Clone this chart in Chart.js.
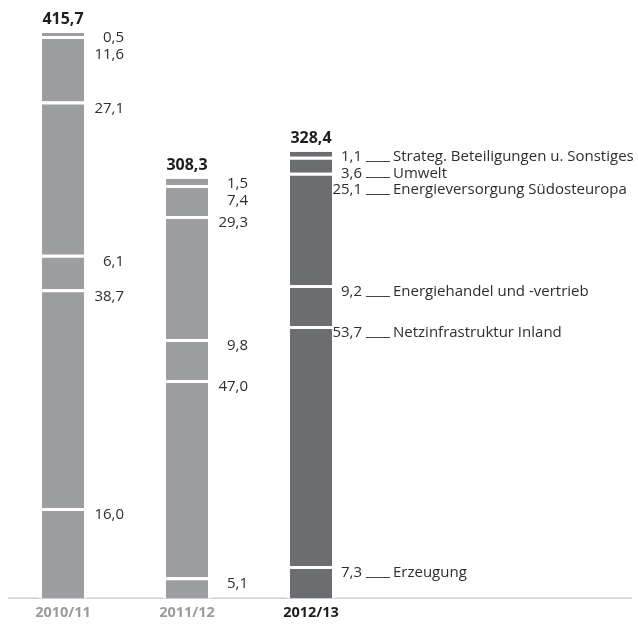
<!DOCTYPE html>
<html>
<head>
<meta charset="utf-8">
<script src="https://cdn.jsdelivr.net/npm/chart.js@4.4.1/dist/chart.umd.min.js"></script>
<style>
  body { margin: 0; background: #fff; }
  canvas { display: block; }
</style>
</head>
<body>
<canvas id="chart" width="638" height="628"></canvas>
<script>
// Fiscal years and total values (bar heights)
const years = ['2010/11', '2011/12', '2012/13'];
const totals = [415.7, 308.3, 328.4];

// Segment names, bottom to top
const segmentNames = [
    'Erzeugung',
    'Netzinfrastruktur Inland',
    'Energiehandel und -vertrieb',
    'Energieversorgung Südosteuropa',
    'Umwelt',
    'Strateg. Beteiligungen u. Sonstiges'
];

// Shares in percent per year
const erzeugung = [16.0, 5.1, 7.3];
const netzinfrastruktur = [38.7, 47.0, 53.7];
const energiehandel = [6.1, 9.8, 9.2];
const suedosteuropa = [27.1, 29.3, 25.1];
const umwelt = [11.6, 7.4, 3.6];
const sonstiges = [0.5, 1.5, 1.1];

const shares = [erzeugung, netzinfrastruktur, energiehandel, suedosteuropa, umwelt, sonstiges];

const barColors = ['#9d9ea1', '#9d9ea1', '#6c6d70'];
const tickColors = ['#9b9b9b', '#9b9b9b', '#1e1e1e'];
const fontFamily = '"Open Sans", "DejaVu Sans", sans-serif';

function formatDe(v) {
    return v.toFixed(1).replace('.', ',');
}

// each segment drawn as its share of the year's total
const datasets = shares.map((share, d) => ({
    label: segmentNames[d],
    data: share.map((p, i) => p * totals[i] / 100),
    backgroundColor: barColors,
    borderColor: '#ffffff',
    borderWidth: { top: d === shares.length - 1 ? 0 : 3, left: 3, right: 3, bottom: 0 },
    borderSkipped: false,
    barThickness: 48,
    inflateAmount: 0
}));

// baseline under the bars, spanning the full width
const baselinePlugin = {
    id: 'baseline',
    beforeDatasetsDraw(chart) {
        const ctx = chart.ctx;
        const y = chart.chartArea.bottom - 0.5;
        ctx.save();
        ctx.strokeStyle = '#b8b8b8';
        ctx.lineWidth = 1;
        ctx.beginPath();
        ctx.moveTo(8, y);
        ctx.lineTo(632, y);
        ctx.stroke();
        ctx.restore();
    }
};

// value labels, totals and legend text for the last bar
const labelPlugin = {
    id: 'segmentLabels',
    afterDatasetsDraw(chart) {
        const ctx = chart.ctx;
        ctx.save();
        const last = years.length - 1;
        for (let i = 0; i < years.length; i++) {
            const topEl = chart.getDatasetMeta(shares.length - 1).data[i];
            const cx = topEl.x;

            // total above the bar
            ctx.font = 'bold 16px ' + fontFamily;
            ctx.fillStyle = '#1e1e1e';
            ctx.textAlign = 'center';
            ctx.textBaseline = 'middle';
            ctx.fillText(formatDe(totals[i]), cx, topEl.y - 13.5);

            const right = cx + (i === last ? 51 : 61);
            let prevY = -Infinity;
            ctx.font = '15px ' + fontFamily;
            for (let d = shares.length - 1; d >= 0; d--) {
                const el = chart.getDatasetMeta(d).data[i];
                const offset = d === shares.length - 1 ? 5 : 7;
                const y = Math.max(el.y + offset, prevY + 16.5);
                prevY = y;
                ctx.fillStyle = '#2e2e2e';
                ctx.textAlign = 'right';
                ctx.textBaseline = 'middle';
                ctx.fillText(formatDe(shares[d][i]), right, y);
                if (i === last) {
                    ctx.strokeStyle = '#444444';
                    ctx.lineWidth = 1;
                    ctx.beginPath();
                    ctx.moveTo(right + 4, Math.round(y + 4) + 0.5);
                    ctx.lineTo(right + 28, Math.round(y + 4) + 0.5);
                    ctx.stroke();
                    ctx.textAlign = 'left';
                    ctx.fillText(segmentNames[d], right + 31, y);
                }
            }
        }
        ctx.restore();
    }
};

new Chart(document.getElementById('chart'), {
    type: 'bar',
    data: {
        labels: years,
        datasets: datasets
    },
    options: {
        responsive: false,
        animation: false,
        devicePixelRatio: 1,
        layout: {
            padding: { left: 1, right: 265, top: 0, bottom: 0 }
        },
        plugins: {
            legend: { display: false },
            tooltip: { enabled: false }
        },
        scales: {
            x: {
                stacked: true,
                grid: { display: false, drawTicks: false },
                border: { display: false },
                ticks: {
                    padding: 6,
                    maxRotation: 0,
                    font: { family: fontFamily, size: 14.5, weight: 'bold' },
                    color: (c) => tickColors[c.index]
                }
            },
            y: {
                stacked: true,
                display: false,
                min: 0,
                max: 440
            }
        }
    },
    plugins: [baselinePlugin, labelPlugin]
});
</script>
</body>
</html>
